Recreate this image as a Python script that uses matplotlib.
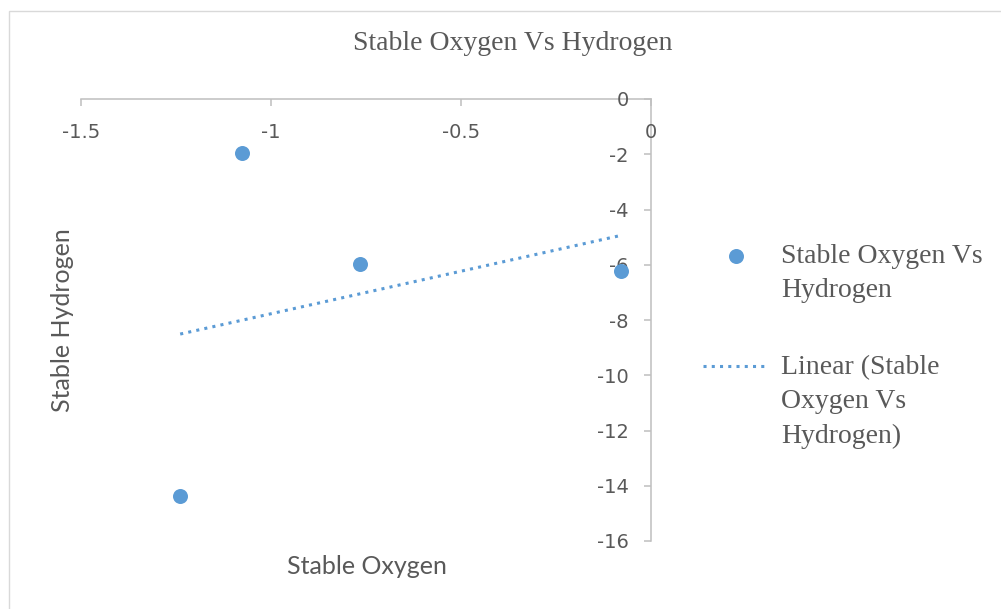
import numpy as np
import matplotlib
matplotlib.use("Agg")
import matplotlib.pyplot as plt
from matplotlib.legend_handler import HandlerLine2D
from matplotlib.transforms import Affine2D
from matplotlib.patches import Rectangle

# ---- data ----
oxygen = [-1.076, -0.766, -0.080, -1.239]
hydrogen = [-1.94, -5.96, -6.24, -14.37]
x_ticks = [-1.5, -1.0, -0.5, 0.0]
x_tick_labels = ["-1.5", "-1", "-0.5", "0"]
y_ticks = [0, -2, -4, -6, -8, -10, -12, -14, -16]
y_tick_labels = ["0", "-2", "-4", "-6", "-8", "-10", "-12", "-14", "-16"]
title = "Stable Oxygen Vs Hydrogen"
series_label = "Stable Oxygen Vs\nHydrogen"
trend_label = "Linear (Stable\nOxygen Vs\nHydrogen)"
x_label = "Stable Oxygen"
y_label = "Stable Hydrogen"

BLUE = "#5B9BD5"
GRAY_TXT = "#595959"
GRAY_AX = "#BFBFBF"
SERIF = "Liberation Serif"
SANS = "Lato"
TICKFONT = "DejaVu Sans"

W, H = 1001, 609
fig = plt.figure(figsize=(W / 100, H / 100), dpi=100)
fig.patches.append(Rectangle((9 / W, -0.2), 1.5, 1 - 11 / H + 0.2,
                             transform=fig.transFigure, fill=False,
                             edgecolor="#D9D9D9", linewidth=1.0))

ax = fig.add_axes([81 / W, (H - 541) / H, 570 / W, 442 / H])
ax.set_xlim(-1.5, 0)
ax.set_ylim(-16, 0)

pts, = ax.plot(oxygen, hydrogen, "o", ls="none", color=BLUE,
               markersize=10.8, markeredgewidth=0, label=series_label,
               clip_on=False, zorder=3)

coef = np.polyfit(oxygen, hydrogen, 1)
xs = np.array([min(oxygen), max(oxygen)])
trend, = ax.plot(xs, np.polyval(coef, xs), color=BLUE, linewidth=2.2,
                 linestyle=(0, (1, 1.7)), label=trend_label, zorder=2)

# axes crossing at (0, 0)
for s in ["top", "right"]:
    ax.spines[s].set_visible(False)
ax.spines["left"].set_position(("data", 0))
ax.spines["bottom"].set_position(("data", 0))
for s in ["left", "bottom"]:
    ax.spines[s].set_color(GRAY_AX)
    ax.spines[s].set_linewidth(1.1)
    ax.spines[s].set_zorder(1)

ax.set_xticks(x_ticks)
ax.set_xticklabels(x_tick_labels)
ax.set_yticks(y_ticks)
ax.set_yticklabels(y_tick_labels)
ax.tick_params(axis="both", direction="out", length=5, width=1.1,
               color=GRAY_AX, labelcolor=GRAY_TXT, labelsize=14)
ax.tick_params(axis="x", pad=12.5)
ax.tick_params(axis="y", pad=11)
for t in ax.get_xticklabels() + ax.get_yticklabels():
    t.set_fontfamily(TICKFONT)

ax.set_xlabel(x_label, fontsize=18, color=GRAY_TXT, family=SANS, va="center")
ax.set_ylabel(y_label, fontsize=18, color=GRAY_TXT, family=SANS, va="center")
ax.xaxis.set_label_coords((367 - 81) / 570, (541 - 566) / 442)
ax.yaxis.set_label_coords((63 - 81) / 570, (541 - 320) / 442)

ax.set_title(title, fontsize=20, color=GRAY_TXT, family=SERIF,
             x=(513 - 81) / 570, y=(541 - 58) / 442, va="baseline")


class FirstLineHandler(HandlerLine2D):
    def __init__(self, shift, **kw):
        super().__init__(**kw)
        self._shift = shift

    def create_artists(self, legend, orig_handle, xdescent, ydescent,
                       width, height, fontsize, trans):
        t = Affine2D().translate(0, self._shift) + trans
        return super().create_artists(legend, orig_handle, xdescent, ydescent,
                                      width, height, fontsize, t)


LFS = 20
LSP = 1.48
leg = fig.legend(handles=[pts, trend], loc="upper left",
                 bbox_to_anchor=(703 / W, 1 - 244 / H),
                 bbox_transform=fig.transFigure, frameon=False,
                 prop={"family": SERIF, "size": LFS}, labelcolor=GRAY_TXT,
                 handlelength=2.35, handletextpad=0.45, labelspacing=1.87,
                 borderpad=0, borderaxespad=0, numpoints=1,
                 handler_map={pts: FirstLineHandler(LSP * LFS * 0.5 - 2.2),
                              trend: FirstLineHandler(LSP * LFS * 1.0 - 4.0)})
for t in leg.get_texts():
    t.set_linespacing(LSP)

fig.savefig("out.png", dpi=100)
